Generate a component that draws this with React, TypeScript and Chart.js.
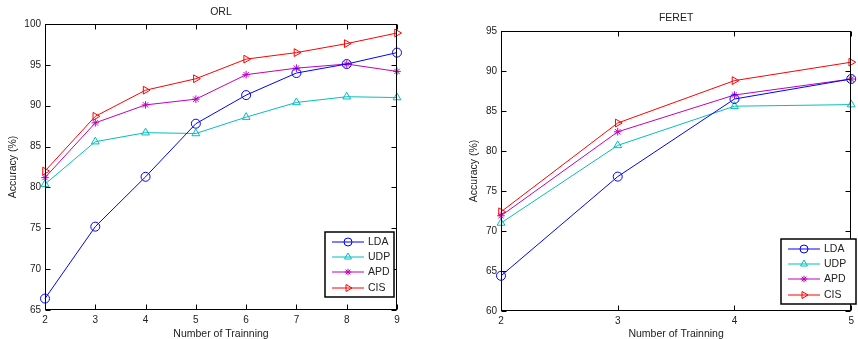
import React, { useEffect, useRef } from "react";
import { Chart, registerables } from "chart.js";
import { drawPoint } from "chart.js/helpers";

Chart.register(...registerables);

const seriesNames = ["LDA", "UDP", "APD", "CIS"];
const seriesColors = ["#0000ff", "#00bfbf", "#bf00bf", "#ff0000"];
const seriesStyles = ["circle", "triangle", "star", "triangle"];
const seriesRotations = [0, 0, 0, 90];
const seriesRadii = [4.5, 4.5, 3.8, 4.5];

const orlTrain = [2, 3, 4, 5, 6, 7, 8, 9];
const orlLDA = [66.4, 75.2, 81.3, 87.8, 91.3, 94.0, 95.1, 96.5];
const orlUDP = [80.4, 85.6, 86.7, 86.6, 88.6, 90.4, 91.1, 91.0];
const orlAPD = [81.2, 87.9, 90.1, 90.8, 93.8, 94.6, 95.1, 94.2];
const orlCIS = [82.0, 88.7, 91.9, 93.3, 95.7, 96.5, 97.6, 98.9];

const feretTrain = [2, 3, 4, 5];
const feretLDA = [64.4, 76.8, 86.5, 89.0];
const feretUDP = [71.0, 80.7, 85.6, 85.8];
const feretAPD = [71.9, 82.4, 87.0, 89.0];
const feretCIS = [72.4, 83.5, 88.8, 91.1];

const FONT = "'Liberation Sans', Arial, sans-serif";
const TXT = "#222";

type Decor = {
  title: string;
  titleY: number;
  yTitleX: number;
  xTitleY: number;
  legend: [number, number, number, number];
  rows: number[];
};

function makePlugin(d: Decor) {
  return {
    id: "decor",
    afterDraw(chart: any) {
      const ctx = chart.ctx as CanvasRenderingContext2D;
      const a = chart.chartArea;
      const xs = chart.scales.x;
      const ys = chart.scales.y;
      ctx.save();
      ctx.strokeStyle = "#000";
      ctx.lineWidth = 1;
      const L = Math.round(a.left) + 0.5;
      const R = Math.round(a.right) - 0.5;
      const T = Math.round(a.top) + 0.5;
      const B = Math.round(a.bottom) - 0.5;
      ctx.beginPath();
      xs.ticks.forEach((t: any) => {
        const px = Math.round(xs.getPixelForValue(t.value)) + 0.5;
        ctx.moveTo(px, B);
        ctx.lineTo(px, B - 5);
        ctx.moveTo(px, T);
        ctx.lineTo(px, T + 5);
      });
      ys.ticks.forEach((t: any) => {
        const py = Math.round(ys.getPixelForValue(t.value)) + 0.5;
        ctx.moveTo(L, py);
        ctx.lineTo(L + 5, py);
        ctx.moveTo(R, py);
        ctx.lineTo(R - 5, py);
      });
      ctx.stroke();
      ctx.strokeRect(L, T, R - L, B - T);

      // titles
      ctx.fillStyle = TXT;
      ctx.font = `10.5px ${FONT}`;
      ctx.textAlign = "center";
      ctx.textBaseline = "middle";
      const cx = (a.left + a.right) / 2;
      ctx.fillText(d.title, cx, d.titleY);
      ctx.fillText("Number of Trainning", cx, d.xTitleY);
      ctx.save();
      ctx.translate(d.yTitleX, (a.top + a.bottom) / 2);
      ctx.rotate(-Math.PI / 2);
      ctx.fillText("Accuracy (%)", 0, 0);
      ctx.restore();

      // legend
      const [x1, y1, x2, y2] = d.legend;
      ctx.fillStyle = "#fff";
      ctx.fillRect(x1, y1, x2 - x1, y2 - y1);
      ctx.lineWidth = 1.5;
      ctx.strokeStyle = "#000";
      ctx.strokeRect(x1, y1, x2 - x1, y2 - y1);
      chart.data.datasets.forEach((ds: any, i: number) => {
        const ry = d.rows[i];
        ctx.strokeStyle = ds.borderColor;
        ctx.lineWidth = 1;
        ctx.beginPath();
        ctx.moveTo(x1 + 7, ry);
        ctx.lineTo(x1 + 39, ry);
        ctx.stroke();
        ctx.fillStyle = "rgba(0,0,0,0)";
        ctx.strokeStyle = ds.borderColor;
        drawPoint(
          ctx,
          {
            pointStyle: ds.pointStyle,
            radius: ds.pointRadius - 0.5,
            rotation: ds.pointRotation,
            borderWidth: 1,
          } as any,
          x1 + 23,
          ry
        );
        ctx.fillStyle = TXT;
        ctx.font = `10.5px ${FONT}`;
        ctx.textAlign = "left";
        ctx.textBaseline = "middle";
        ctx.fillText(ds.label, x1 + 43, ry + 0.5);
      });
      ctx.restore();
    },
  };
}

function buildDatasets(xs: number[], ys: number[][]) {
  return ys.map((vals, i) => ({
    label: seriesNames[i],
    data: xs.map((x, k) => ({ x, y: vals[k] })),
    borderColor: seriesColors[i],
    backgroundColor: "transparent",
    pointBorderColor: seriesColors[i],
    pointBackgroundColor: "transparent",
    pointStyle: seriesStyles[i],
    pointRotation: seriesRotations[i],
    pointRadius: seriesRadii[i],
    pointBorderWidth: 1,
    borderWidth: 1,
    tension: 0,
    clip: false,
  }));
}

type PanelProps = {
  width: number;
  left: number;
  xs: number[];
  ys: number[][];
  yMin: number;
  yMax: number;
  axisLeft: number;
  padRight: number;
  padTop: number;
  padBottom: number;
  yPad: number;
  decor: Decor;
};

function Panel(p: PanelProps) {
  const ref = useRef<HTMLCanvasElement>(null);
  useEffect(() => {
    if (!ref.current) return;
    const chart = new Chart(ref.current, {
      type: "line",
      data: { datasets: buildDatasets(p.xs, p.ys) as any },
      options: {
        animation: false,
        responsive: false,
        maintainAspectRatio: false,
        layout: { padding: { top: p.padTop, right: p.padRight, left: 0, bottom: 0 } },
        plugins: { legend: { display: false }, title: { display: false }, tooltip: { enabled: false } },
        scales: {
          x: {
            type: "linear",
            min: p.xs[0],
            max: p.xs[p.xs.length - 1],
            grid: { display: false, drawTicks: false, tickLength: 0 },
            border: { display: false },
            ticks: {
              stepSize: 1,
              padding: 4,
              color: TXT,
              font: { family: FONT, size: 10 },
              maxRotation: 0,
            },
            afterFit: (s: any) => {
              s.height = p.padBottom;
            },
          },
          y: {
            min: p.yMin,
            max: p.yMax,
            grid: { display: false, drawTicks: false, tickLength: 0 },
            border: { display: false },
            ticks: {
              stepSize: 5,
              padding: p.yPad,
              color: TXT,
              font: { family: FONT, size: 10 },
            },
            afterFit: (s: any) => {
              s.width = p.axisLeft;
            },
          },
        },
      },
      plugins: [makePlugin(p.decor)],
    });
    return () => chart.destroy();
  }, []);
  return (
    <canvas
      ref={ref}
      width={p.width}
      height={339}
      style={{ position: "absolute", left: p.left, top: 0, width: p.width, height: 339 }}
    />
  );
}

export default function App() {
  return (
    <div
      style={{
        position: "fixed",
        left: 0,
        top: 0,
        width: 858,
        height: 339,
        background: "#fff",
        overflow: "hidden",
      }}
    >
      <Panel
        width={430}
        left={0}
        xs={orlTrain}
        ys={[orlLDA, orlUDP, orlAPD, orlCIS]}
        yMin={65}
        yMax={100}
        axisLeft={45}
        padRight={33}
        padTop={24}
        padBottom={29}
        yPad={4}
        decor={{
          title: "ORL",
          titleY: 12,
          yTitleX: 13,
          xTitleY: 334,
          legend: [325, 232, 394, 297],
          rows: [242, 257, 272, 288],
        }}
      />
      <Panel
        width={428}
        left={430}
        xs={feretTrain}
        ys={[feretLDA, feretUDP, feretAPD, feretCIS]}
        yMin={60}
        yMax={95}
        axisLeft={71}
        padRight={1}
        padTop={31}
        padBottom={28}
        yPad={4}
        decor={{
          title: "FERET",
          titleY: 18,
          yTitleX: 44,
          xTitleY: 334,
          legend: [351, 239, 426, 304],
          rows: [249, 264, 279, 295],
        }}
      />
    </div>
  );
}
